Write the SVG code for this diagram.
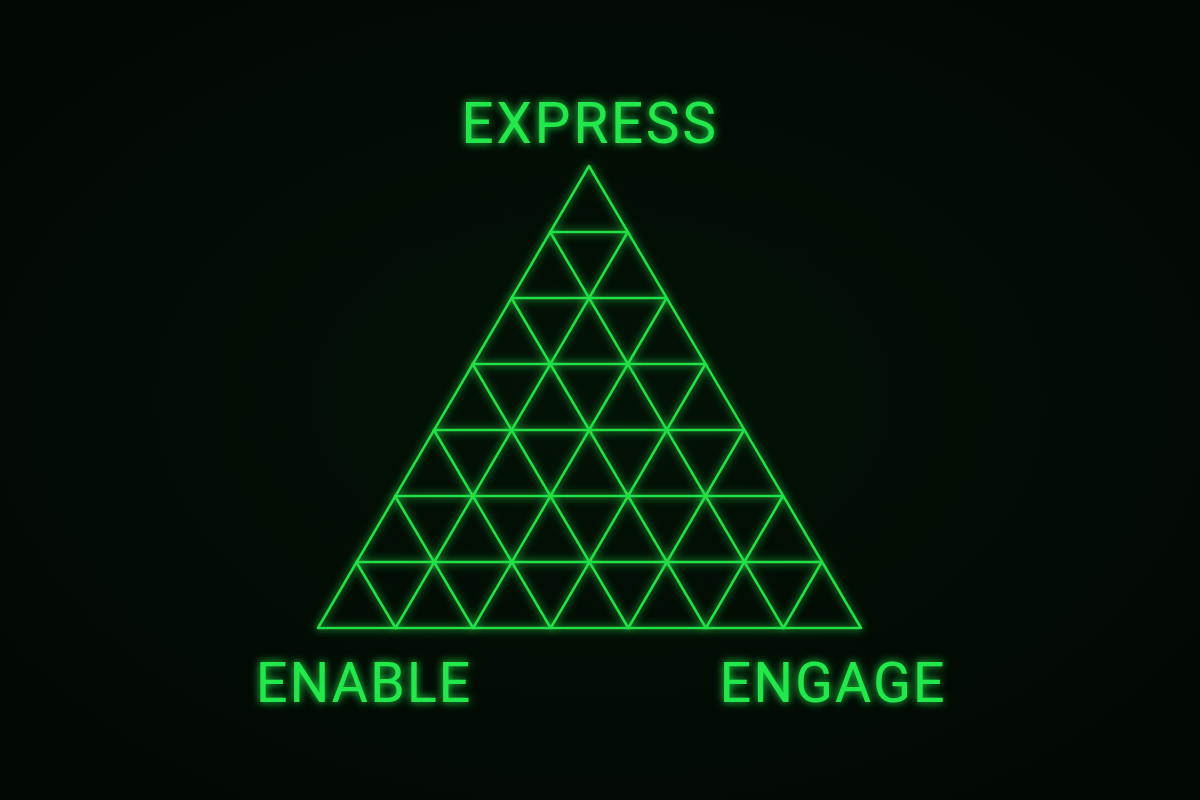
<svg xmlns="http://www.w3.org/2000/svg" width="1200" height="800" viewBox="0 0 1200 800">
<defs>
<filter id="glow" x="-20%" y="-20%" width="140%" height="140%">
<feGaussianBlur in="SourceGraphic" stdDeviation="4" result="b"/>
<feMerge><feMergeNode in="b"/><feMergeNode in="SourceGraphic"/></feMerge>
</filter>
<radialGradient id="bg" cx="50%" cy="50%" r="70%">
<stop offset="0" stop-color="#031206"/>
<stop offset="1" stop-color="#010702"/>
</radialGradient>
<style>
.ln{stroke:#22e046;stroke-width:2.5;fill:none;stroke-linecap:round;stroke-linejoin:round}
.lb{font-family:Roboto,"Liberation Sans",sans-serif;font-weight:400;font-size:57px;fill:#22e84c;letter-spacing:2.6px;text-anchor:middle}
.sm{font-size:56px;letter-spacing:1.8px}
</style>
</defs>
<rect width="1200" height="800" fill="url(#bg)"/>
<g id="connectors" filter="url(#glow)">
<polygon class="ln" points="589,166 861,628 318,628"/>
<path class="ln" d="M550.2,232H627.8M511.4,298H666.6M472.6,364H705.4M433.9,430H744.1M395.1,496H782.9M356.3,562H821.7"/>
<path class="ln" d="M395.6,628L627.8,232M473.1,628L666.6,298M550.7,628L705.4,364M628.3,628L744.1,430M705.9,628L782.9,496M783.4,628L821.7,562"/>
<path class="ln" d="M395.6,628L356.3,562M473.1,628L395.1,496M550.7,628L433.9,430M628.3,628L472.6,364M705.9,628L511.4,298M783.4,628L550.2,232"/>
</g>
<g id="express" filter="url(#glow)"><text class="lb" x="590" y="143">EXPRESS</text></g>
<g id="enable" filter="url(#glow)"><text class="lb sm" x="364" y="702">ENABLE</text></g>
<g id="engage" filter="url(#glow)"><text class="lb sm" x="833" y="702">ENGAGE</text></g>
</svg>
